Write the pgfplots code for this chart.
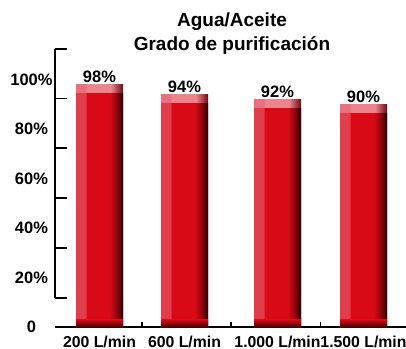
\documentclass[border=0pt]{standalone}
\usepackage{pgfplots}
\usepackage{pgfplotstable}
\pgfplotsset{compat=1.18}
\usepackage{fontspec}
\setmainfont{Liberation Sans}
\newcommand{\lbl}{\fontsize{16.5}{19}\selectfont\bfseries}
\newcommand{\xlbl}{\fontsize{15.8}{19}\selectfont\bfseries}
\newcommand{\ttl}{\fontsize{19}{23}\selectfont\bfseries}
\definecolor{barred}{RGB}{216,10,22}
\definecolor{stripe}{RGB}{224,62,76}
\definecolor{darkr}{RGB}{150,4,12}
\definecolor{nearblack}{RGB}{40,0,2}
\definecolor{tpl}{RGB}{232,112,124}
\definecolor{tpm}{RGB}{236,132,140}
\definecolor{tpd}{RGB}{110,10,18}
\definecolor{bdk}{RGB}{70,0,4}
\pgfdeclarehorizontalshading{mainbar}{100bp}{color(0bp)=(stripe); color(25bp)=(stripe); color(35bp)=(stripe); color(36.5bp)=(barred); color(61bp)=(barred); color(68bp)=(darkr); color(75bp)=(nearblack); color(100bp)=(nearblack)}
\pgfdeclarehorizontalshading{topbar}{100bp}{color(0bp)=(tpl); color(25bp)=(tpl); color(35bp)=(tpl); color(36.5bp)=(tpm); color(62bp)=(tpm); color(75bp)=(tpd); color(100bp)=(tpd)}
\pgfdeclareverticalshading{botbar}{100bp}{color(0bp)=(bdk); color(25bp)=(bdk); color(75bp)=(barred); color(100bp)=(barred)}
\pgfplotstableread{
x v
99.5 98
184.5 94
277.5 92
363.5 90
}\data
\begin{document}
\begin{tikzpicture}
\begin{axis}[
  width=355pt, height=278pt, scale only axis,
  xmin=55, xmax=410, ymin=0, ymax=112.5,
  clip=false,
  axis x line=bottom, axis y line=left,
  axis line style={-, line width=1.8pt, black},
  y axis line style={draw=none},
  xtick={99.5,184.5,277.5,363.5},
  xticklabels={200 L/min,600 L/min,1.000 L/min,1.500 L/min},
  ytick={0,20,40,60,80,100},
  yticklabels={0,20\%,40\%,60\%,80\%,100\%},
  major tick length=0pt,
  extra x ticks={142,231,320.5},
  extra x tick labels={,,},
  extra x tick style={major tick length=5pt, tick align=inside, tick style={line width=1.5pt, black}},
  extra y ticks={11.7,31.9,52.1,72.3,92.5,112.5},
  extra y tick labels={,,,,,},
  extra y tick style={major tick length=12pt, tick align=inside, tick style={line width=1.8pt, black}},
  xticklabel style={anchor=base, yshift=-20pt, font=\xlbl},
  yticklabel style={anchor=center, xshift=-23.5pt, font=\lbl},
  /pgf/number format/assume math mode=true,
]
\pgfplotsinvokeforeach{99.5,184.5,277.5,363.5}{
\addplot[ybar, bar width=47pt, bar shift=0pt, draw=none, shade, shading=topbar,
  x filter/.expression={abs(x-#1)<1 ? x : nan},
  nodes near coords={\pgfmathprintnumber{\pgfplotspointmeta}\%},
  every node near coord/.append style={anchor=base, yshift=2pt, font=\lbl, text=black}]
  table[x=x, y=v]{\data};
\addplot[ybar, bar width=47pt, bar shift=0pt, draw=none, shade, shading=mainbar,
  x filter/.expression={abs(x-#1)<1 ? x : nan}]
  table[x=x, y expr=\thisrow{v}-3.5]{\data};
\addplot[ybar, bar width=47pt, bar shift=0pt, draw=none, shade, shading=botbar,
  x filter/.expression={abs(x-#1)<1 ? x : nan}]
  table[x=x, y expr=3]{\data};
}
\draw[line width=1.8pt] (axis cs:55,11.7) -- (axis cs:55,112.5);
\node[anchor=base, font=\ttl] at (axis cs:232,121.6) {Agua/Aceite};
\node[anchor=base, font=\ttl] at (axis cs:232,111.9) {Grado de purificación};
\coordinate (bl) at (axis cs:0,-8.9);
\coordinate (tr) at (axis cs:406,132.33);
\end{axis}
\pgfresetboundingbox
\path[use as bounding box] (bl) rectangle (tr);
\end{tikzpicture}
\end{document}
